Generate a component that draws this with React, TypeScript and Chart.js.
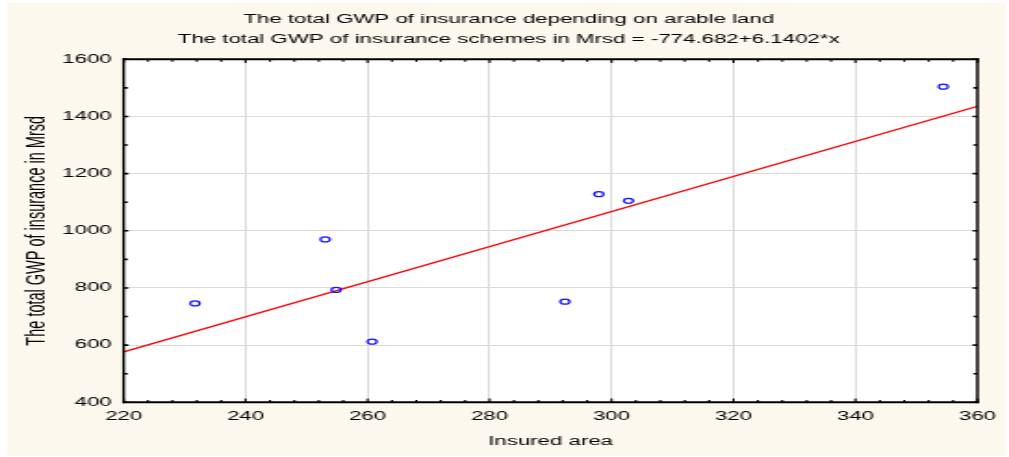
import React, { useEffect, useRef } from "react";
import { Chart, registerables } from "chart.js";

Chart.register(...registerables);

// ---- data ----
const TITLE_LINES = [
  "The total GWP of insurance depending on arable land",
  "The total GWP of insurance schemes in Mrsd = -774.682+6.1402*x",
];
const X_LABEL = "Insured area";
const Y_LABEL = "The total GWP of insurance in Mrsd";

const insuredArea = [231.7, 253.05, 254.85, 260.74, 292.36, 297.92, 302.78, 354.4];
const totalGwp = [746, 970, 793, 612, 752, 1128, 1105, 1504];

const xTicks = [220, 240, 260, 280, 300, 320, 340, 360];
const yTicks = [400, 600, 800, 1000, 1200, 1400, 1600];
const X_MINOR_STEP = 4;
const Y_MINOR_STEP = 100;

const INTERCEPT = -774.682;
const SLOPE = 6.1402;

// ---- layout (canvas is drawn narrow and stretched horizontally, like the source) ----
const CSS_W = 1009;
const H = 457;
const W = 544;
const S = CSS_W / W;
const PAD_LEFT = 4.5;
const PLOT_LEFT = 123.6 / S;
const PLOT_RIGHT = 979.6 / S;
const PLOT_TOP = 59.3;
const PLOT_BOTTOM = 402.3;

const FONT = "'Liberation Sans', Arial, sans-serif";
const CREAM = "#fdf8ee";

const framePlugin = {
  id: "frame",
  beforeDraw(chart: any) {
    const { ctx, chartArea: a } = chart;
    ctx.save();
    ctx.fillStyle = "#ffffff";
    ctx.fillRect(0, 0, chart.width, chart.height);
    ctx.fillStyle = CREAM;
    ctx.fillRect(7 / S, 3, (1005 - 7) / S, 453);
    ctx.fillStyle = "#ffffff";
    ctx.fillRect(a.left, a.top, a.right - a.left, a.bottom - a.top);
    ctx.restore();
  },
  afterDraw(chart: any) {
    const { ctx, chartArea: a, scales } = chart;
    const xs = scales.x;
    const ys = scales.y;
    ctx.save();
    ctx.strokeStyle = "#000000";
    // ticks on x (bottom and top), inward
    ctx.lineWidth = 1.1;
    ctx.beginPath();
    for (let v = xs.min; v <= xs.max + 1e-9; v += X_MINOR_STEP) {
      const px = xs.getPixelForValue(v);
      const len = xTicks.includes(v) ? 3.8 : 2.4;
      ctx.moveTo(px, a.bottom);
      ctx.lineTo(px, a.bottom - len);
      ctx.moveTo(px, a.top);
      ctx.lineTo(px, a.top + len);
    }
    ctx.stroke();
    // ticks on y (left and right), inward
    ctx.lineWidth = 1.6;
    ctx.beginPath();
    for (let v = ys.min; v <= ys.max + 1e-9; v += Y_MINOR_STEP) {
      const py = ys.getPixelForValue(v);
      const len = yTicks.includes(v) ? 2.6 : 2.2;
      ctx.moveTo(a.left, py);
      ctx.lineTo(a.left + len, py);
      ctx.moveTo(a.right, py);
      ctx.lineTo(a.right - len, py);
    }
    ctx.stroke();
    // frame
    ctx.lineWidth = 2;
    ctx.beginPath();
    ctx.moveTo(a.left - 0.7, a.top);
    ctx.lineTo(a.right + 0.7, a.top);
    ctx.moveTo(a.left - 0.7, a.bottom);
    ctx.lineTo(a.right + 0.7, a.bottom);
    ctx.stroke();
    ctx.lineWidth = 1.4;
    ctx.beginPath();
    ctx.moveTo(a.left, a.top - 1);
    ctx.lineTo(a.left, a.bottom + 1);
    ctx.moveTo(a.right, a.top - 1);
    ctx.lineTo(a.right, a.bottom + 1);
    ctx.stroke();
    ctx.restore();
  },
};

export default function App() {
  const ref = useRef<HTMLCanvasElement | null>(null);

  useEffect(() => {
    const canvas = ref.current;
    if (!canvas) return;
    const points = insuredArea.map((x, i) => ({ x, y: totalGwp[i] }));
    const xMin = xTicks[0];
    const xMax = xTicks[xTicks.length - 1];
    const fit = [
      { x: xMin, y: INTERCEPT + SLOPE * xMin },
      { x: xMax, y: INTERCEPT + SLOPE * xMax },
    ];
    const chart = new Chart(canvas, {
      type: "scatter",
      data: {
        datasets: [
          {
            type: "scatter",
            label: "GWP",
            data: points,
            pointStyle: "circle",
            pointRadius: 2.5,
            pointBorderWidth: 1.25,
            borderColor: "#1414ff",
            backgroundColor: "rgba(0,0,0,0)",
            order: 0,
          } as any,
          {
            type: "line",
            label: "fit",
            data: fit,
            borderColor: "#ff0000",
            borderWidth: 1.3,
            pointRadius: 0,
            fill: false,
            order: 1,
          } as any,
        ],
      },
      options: {
        responsive: false,
        devicePixelRatio: 1,
        animation: false,
        layout: { padding: { left: PAD_LEFT, right: 0, top: 0, bottom: 0 } },
        plugins: {
          legend: { display: false },
          tooltip: { enabled: false },
          title: {
            display: true,
            text: TITLE_LINES,
            color: "#000000",
            font: { family: FONT, size: 12, weight: "normal", lineHeight: 20 / 12 },
            padding: { top: 9.5, bottom: PLOT_TOP - 9.5 - 40 },
          },
        },
        scales: {
          x: {
            type: "linear",
            min: xMin,
            max: xMax,
            afterBuildTicks: (s: any) => {
              s.ticks = xTicks.map((v) => ({ value: v }));
            },
            afterFit: (s: any) => {
              s.height = H - PLOT_BOTTOM;
            },
            ticks: {
              color: "#000000",
              padding: 7,
              font: { family: FONT, size: 12 },
              callback: (v: any) => String(v),
              maxRotation: 0,
            },
            grid: { color: "#dadada", lineWidth: 1, drawTicks: false },
            border: { display: false },
            title: {
              display: true,
              text: X_LABEL,
              color: "#000000",
              font: { family: FONT, size: 12 },
              padding: { top: 0, bottom: 7.8 },
            },
          },
          y: {
            type: "linear",
            min: yTicks[0],
            max: yTicks[yTicks.length - 1],
            afterBuildTicks: (s: any) => {
              s.ticks = yTicks.map((v) => ({ value: v }));
            },
            afterFit: (s: any) => {
              s.width = PLOT_LEFT - PAD_LEFT;
            },
            ticks: {
              color: "#000000",
              padding: 6.4,
              font: { family: FONT, size: 12 },
              callback: (v: any) => String(v),
            },
            grid: { color: "#dadada", lineWidth: 1, drawTicks: false },
            border: { display: false },
            title: {
              display: true,
              text: Y_LABEL,
              color: "#000000",
              font: { family: FONT, size: 14.5 },
              padding: { top: 11.4 - PAD_LEFT, bottom: 0 },
            },
          },
          yRight: {
            type: "linear",
            position: "right",
            min: yTicks[0],
            max: yTicks[yTicks.length - 1],
            grid: { display: false, drawTicks: false },
            border: { display: false },
            ticks: { display: false },
            afterFit: (s: any) => {
              s.width = W - PLOT_RIGHT;
            },
          },
        },
      },
      plugins: [framePlugin],
    } as any);
    return () => chart.destroy();
  }, []);

  return (
    <div style={{ position: "absolute", left: 0, top: 0, width: CSS_W, height: H }}>
      <canvas
        ref={ref}
        width={W}
        height={H}
        style={{ width: CSS_W + "px", height: H + "px", display: "block" }}
      />
    </div>
  );
}
